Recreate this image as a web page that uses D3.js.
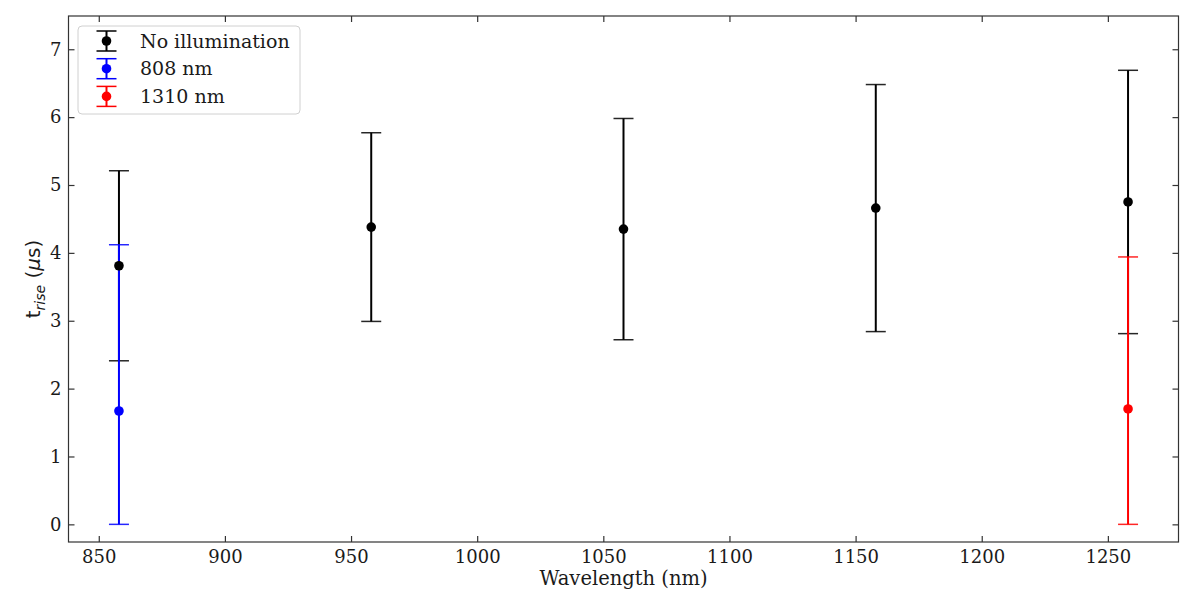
<!DOCTYPE html>
<html>
<head>
<meta charset="utf-8">
<script src="https://cdn.jsdelivr.net/npm/d3@7"></script>
<style>
  html, body { margin: 0; padding: 0; background: #fff; }
  svg { display: block; }
</style>
</head>
<body>
<svg id="chart" width="1196" height="598"></svg>
<script>
// ---- data ----
const wavelengths = [858, 958, 1058, 1158, 1258];
const noIllumMean = [3.81, 4.38, 4.35, 4.66, 4.75];
const noIllumErr  = [1.40, 1.39, 1.63, 1.82, 1.94];

const nm808Wavelengths = [858];
const nm808Mean = [1.67];
const nm808ErrLow = [1.67];
const nm808ErrHigh = [2.45];

const nm1310Wavelengths = [1258];
const nm1310Mean = [1.70];
const nm1310ErrLow = [1.70];
const nm1310ErrHigh = [2.24];

const xTicks = [850, 900, 950, 1000, 1050, 1100, 1150, 1200, 1250];
const yTicks = [0, 1, 2, 3, 4, 5, 6, 7];
const legendLabels = ["No illumination", "808 nm", "1310 nm"];
const seriesColors = ["#000000", "#0000ff", "#ff0000"];

(function () {
// ---- layout ----
const pLeft = 68.5, pRight = 1178.5, pTop = 16, pBottom = 542;
const svg = d3.select("#chart");
const x = d3.scaleLinear().domain([838, 1278]).range([pLeft, pRight]);
const y = d3.scaleLinear().domain([-0.26, 7.49]).range([pBottom, pTop]);

const serif = "'DejaVu Serif', serif";
const tickLen = 6;
const ink = "#1a1a1a";

// axes
const gx = svg.append("g").attr("transform", `translate(0,${pBottom})`)
  .call(d3.axisBottom(x).tickValues(xTicks).tickSize(-tickLen).tickPadding(8).tickFormat(d3.format("d")));
const gxt = svg.append("g").attr("transform", `translate(0,${pTop})`)
  .call(d3.axisTop(x).tickValues(xTicks).tickSize(-tickLen).tickFormat(""));
const gy = svg.append("g").attr("transform", `translate(${pLeft},0)`)
  .call(d3.axisLeft(y).tickValues(yTicks).tickSize(-tickLen).tickPadding(7).tickFormat(d3.format("d")));
const gyr = svg.append("g").attr("transform", `translate(${pRight},0)`)
  .call(d3.axisRight(y).tickValues(yTicks).tickSize(-tickLen).tickFormat(""));

[gx, gxt, gy, gyr].forEach(g => {
  g.select(".domain").remove();
  g.selectAll(".tick line").attr("stroke", "#333").attr("stroke-width", 1.2);
  g.selectAll(".tick text").attr("font-family", serif).attr("font-size", 18).attr("fill", ink);
});

svg.append("rect").attr("x", pLeft).attr("y", pTop)
  .attr("width", pRight - pLeft).attr("height", pBottom - pTop)
  .attr("fill", "none").attr("stroke", "#333").attr("stroke-width", 1.2);

// axis labels
svg.append("text").attr("x", (pLeft + pRight) / 2).attr("y", 585)
  .attr("text-anchor", "middle").attr("font-family", serif).attr("font-size", 19.5).attr("fill", ink)
  .text("Wavelength (nm)");

const yl = svg.append("text").attr("transform", `translate(40,${(pTop + pBottom) / 2}) rotate(-90)`)
  .attr("text-anchor", "middle").attr("font-family", "'DejaVu Sans', sans-serif").attr("font-size", 20).attr("fill", ink);
yl.append("tspan").text("t");
yl.append("tspan").attr("font-size", 14).attr("font-style", "italic").attr("dy", 5).text("rise");
yl.append("tspan").attr("dy", -5).text(" (");
yl.append("tspan").attr("font-style", "italic").text("μ");
yl.append("tspan").text("s)");

// series
const series = [
  { xs: wavelengths, m: noIllumMean, lo: noIllumErr, hi: noIllumErr, color: seriesColors[0] },
  { xs: nm808Wavelengths, m: nm808Mean, lo: nm808ErrLow, hi: nm808ErrHigh, color: seriesColors[1] },
  { xs: nm1310Wavelengths, m: nm1310Mean, lo: nm1310ErrLow, hi: nm1310ErrHigh, color: seriesColors[2] }
];
const cap = 10;
const barsG = svg.append("g");
series.forEach(s => {
  const d = s.xs.map((w, i) => ({ w, m: s.m[i], lo: s.m[i] - s.lo[i], hi: s.m[i] + s.hi[i] }));
  const g = barsG.append("g");
  g.selectAll("line.v").data(d).join("line").attr("class", "v")
    .attr("x1", e => x(e.w)).attr("x2", e => x(e.w))
    .attr("y1", e => y(e.lo)).attr("y2", e => y(e.hi))
    .attr("stroke", s.color).attr("stroke-width", 2);
  ["lo", "hi"].forEach(k => {
    g.selectAll("line." + k).data(d).join("line").attr("class", k)
      .attr("x1", e => x(e.w) - cap).attr("x2", e => x(e.w) + cap)
      .attr("y1", e => y(e[k])).attr("y2", e => y(e[k]))
      .attr("stroke", s.color).attr("stroke-width", 1.5).attr("stroke-opacity", 0.85);
  });
});
const ptsG = svg.append("g");
series.forEach(s => {
  ptsG.append("g").selectAll("circle").data(s.xs.map((w, i) => ({ w, m: s.m[i] }))).join("circle")
    .attr("cx", e => x(e.w)).attr("cy", e => y(e.m)).attr("r", 4.8).attr("fill", s.color);
});

// legend
const lg = svg.append("g");
lg.append("rect").attr("x", 78).attr("y", 26).attr("width", 222).attr("height", 88).attr("rx", 4)
  .attr("fill", "#fff").attr("fill-opacity", 0.8).attr("stroke", "#d0d0d0").attr("stroke-width", 1);
legendLabels.forEach((lab, i) => {
  const cy = 41 + i * 27.7, cx = 106.5, c = seriesColors[i];
  lg.append("line").attr("x1", cx).attr("x2", cx).attr("y1", cy - 10).attr("y2", cy + 10).attr("stroke", c).attr("stroke-width", 2);
  lg.append("line").attr("x1", cx - 10).attr("x2", cx + 10).attr("y1", cy - 10).attr("y2", cy - 10).attr("stroke", c).attr("stroke-width", 1.5);
  lg.append("line").attr("x1", cx - 10).attr("x2", cx + 10).attr("y1", cy + 10).attr("y2", cy + 10).attr("stroke", c).attr("stroke-width", 1.5);
  lg.append("circle").attr("cx", cx).attr("cy", cy).attr("r", 4.8).attr("fill", c);
  lg.append("text").attr("x", 140).attr("y", cy).attr("dy", "0.35em")
    .attr("font-family", serif).attr("font-size", 19).attr("fill", ink).text(lab);
});
})();
</script>
</body>
</html>
